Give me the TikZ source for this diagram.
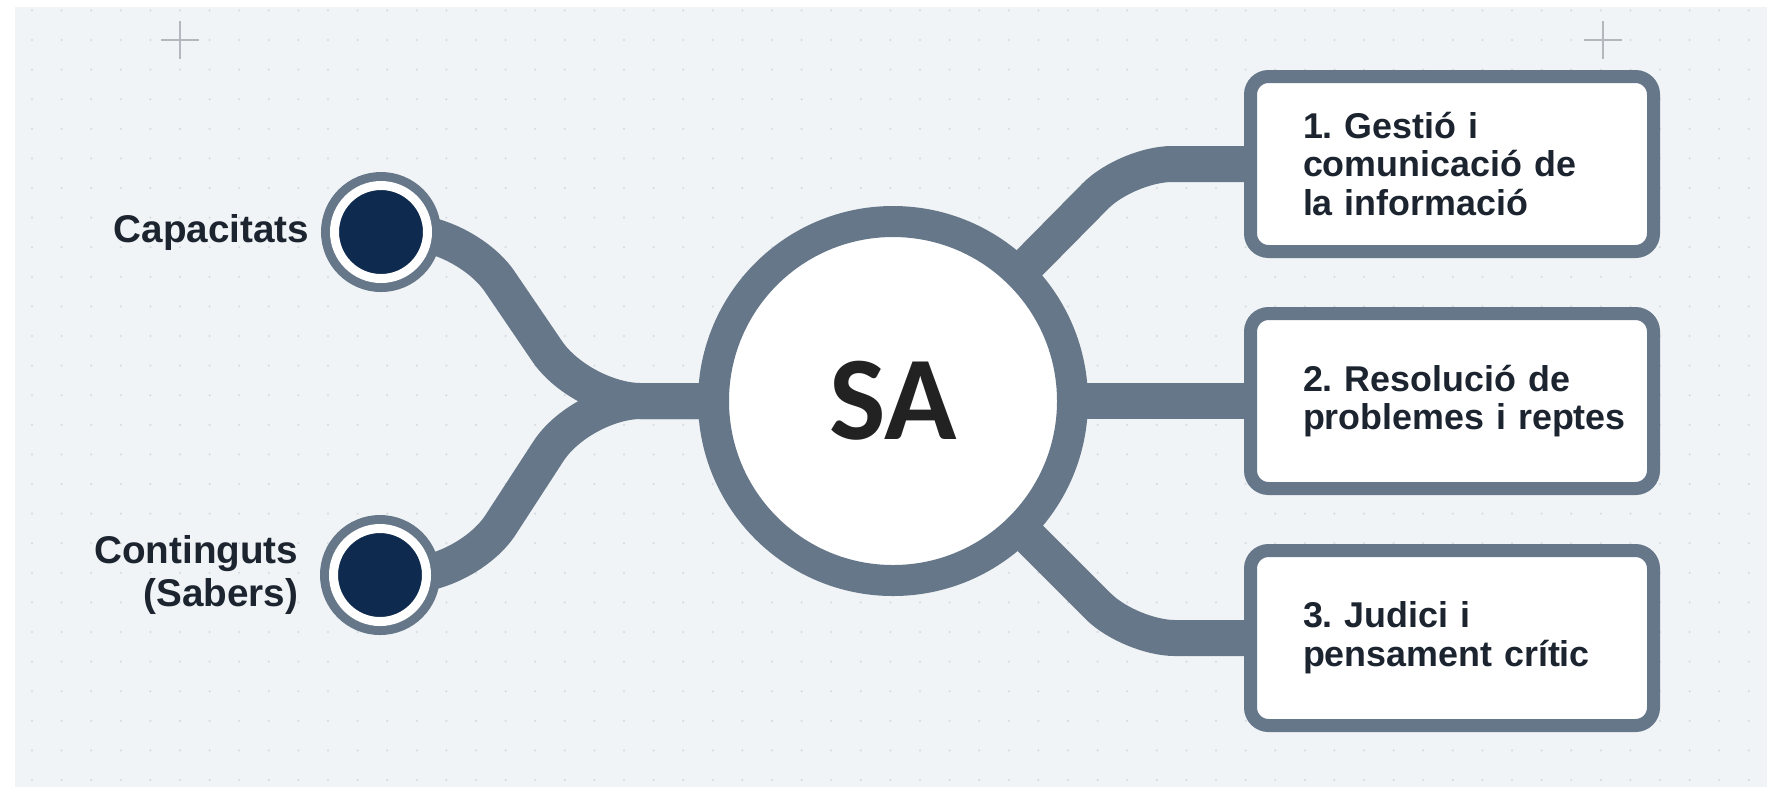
\documentclass[tikz,border=0pt]{standalone}
\usepackage{fontspec}
\setmainfont{Liberation Sans}
\newfontfamily\safont{Carlito}
\usetikzlibrary{backgrounds}
\definecolor{slate}{HTML}{66778A}
\definecolor{navy}{HTML}{0E2A4E}
\definecolor{panel}{HTML}{F1F4F6}
\definecolor{griddot}{HTML}{D6DCE2}
\definecolor{crossc}{HTML}{B2B8BE}
\definecolor{ink}{HTML}{1C2430}
\definecolor{sadark}{HTML}{222222}
\frenchspacing
\begin{document}
\begin{tikzpicture}
    \tikzstyle{every node}=[inner sep=0pt,text=ink];
    \tikzstyle{link}=[draw=slate,line width=3.6mm,rounded corners=6mm];
    \tikzstyle{bead}=[circle,fill=navy,draw=white,line width=0.9mm,minimum size=9.3mm,preaction={draw=slate,line width=2.7mm}];
    \tikzstyle{tag}=[font=\fontsize{11}{12.2}\selectfont\bfseries,align=right];
    \tikzstyle{card}=[rectangle,rounded corners=1.8mm,draw=slate,line width=1.3mm,fill=white,minimum width=40.3mm,minimum height=17.5mm,text width=29.8mm,align=left,font=\fontsize{10.2}{11}\selectfont\bfseries];
    \useasboundingbox (0,0) rectangle (17.67,-7.87);

    \node at (8.93,-4.01)  (sa)  [circle,draw=slate,line width=3.1mm,fill=white,minimum size=35.9mm,text=sadark,font=\safont\bfseries\fontsize{34}{34}\selectfont] {SA};
    \node at (3.81,-2.32)  (cap) [bead,label={[tag,xshift=-2.0mm]left:Capacitats}] {};
    \node at (3.80,-5.75)  (con) [bead,label={[tag,xshift=-3.0mm]left:{Continguts\\(Sabers)}}] {};
    \node at (14.52,-1.64) (b1)  [card] {1. Gestió i\\comunicació de\\la informació};
    \node at (14.52,-4.01) (b2)  [card] {2. Resolució de\\\mbox{problemes i reptes}};
    \node at (14.52,-6.38) (b3)  [card] {3. Judici i\\pensament crític};
    \coordinate (jl) at (5.81,-4.01);

    \begin{scope}[on background layer]
    \fill[panel] (0.15,-0.07) rectangle (17.67,-7.87);
    \foreach \i in {0,...,58}
      \foreach \j in {0,...,26}
        \fill[griddot] (0.32+0.296*\i,-0.104-0.296*\j) circle (0.012);
    \draw[crossc,line width=0.2mm] (1.61,-0.40) -- (1.99,-0.40) (1.80,-0.21) -- (1.80,-0.59);
    \draw[crossc,line width=0.2mm] (15.84,-0.40) -- (16.22,-0.40) (16.03,-0.21) -- (16.03,-0.59);
    \draw[link] (cap.center) -- (4.66,-2.32) -- (jl) -- (sa.center);
    \draw[link] (con.center) -- (4.68,-5.75) -- (jl) -- (sa.center);
    \draw[link,rounded corners=4.5mm] (sa.center) -- (11.27,-1.64) -- (b1.center);
    \draw[link] (sa.center) -- (b2.center);
    \draw[link,rounded corners=4.5mm] (sa.center) -- (11.30,-6.38) -- (b3.center);
    \end{scope}
\end{tikzpicture}
\end{document}
